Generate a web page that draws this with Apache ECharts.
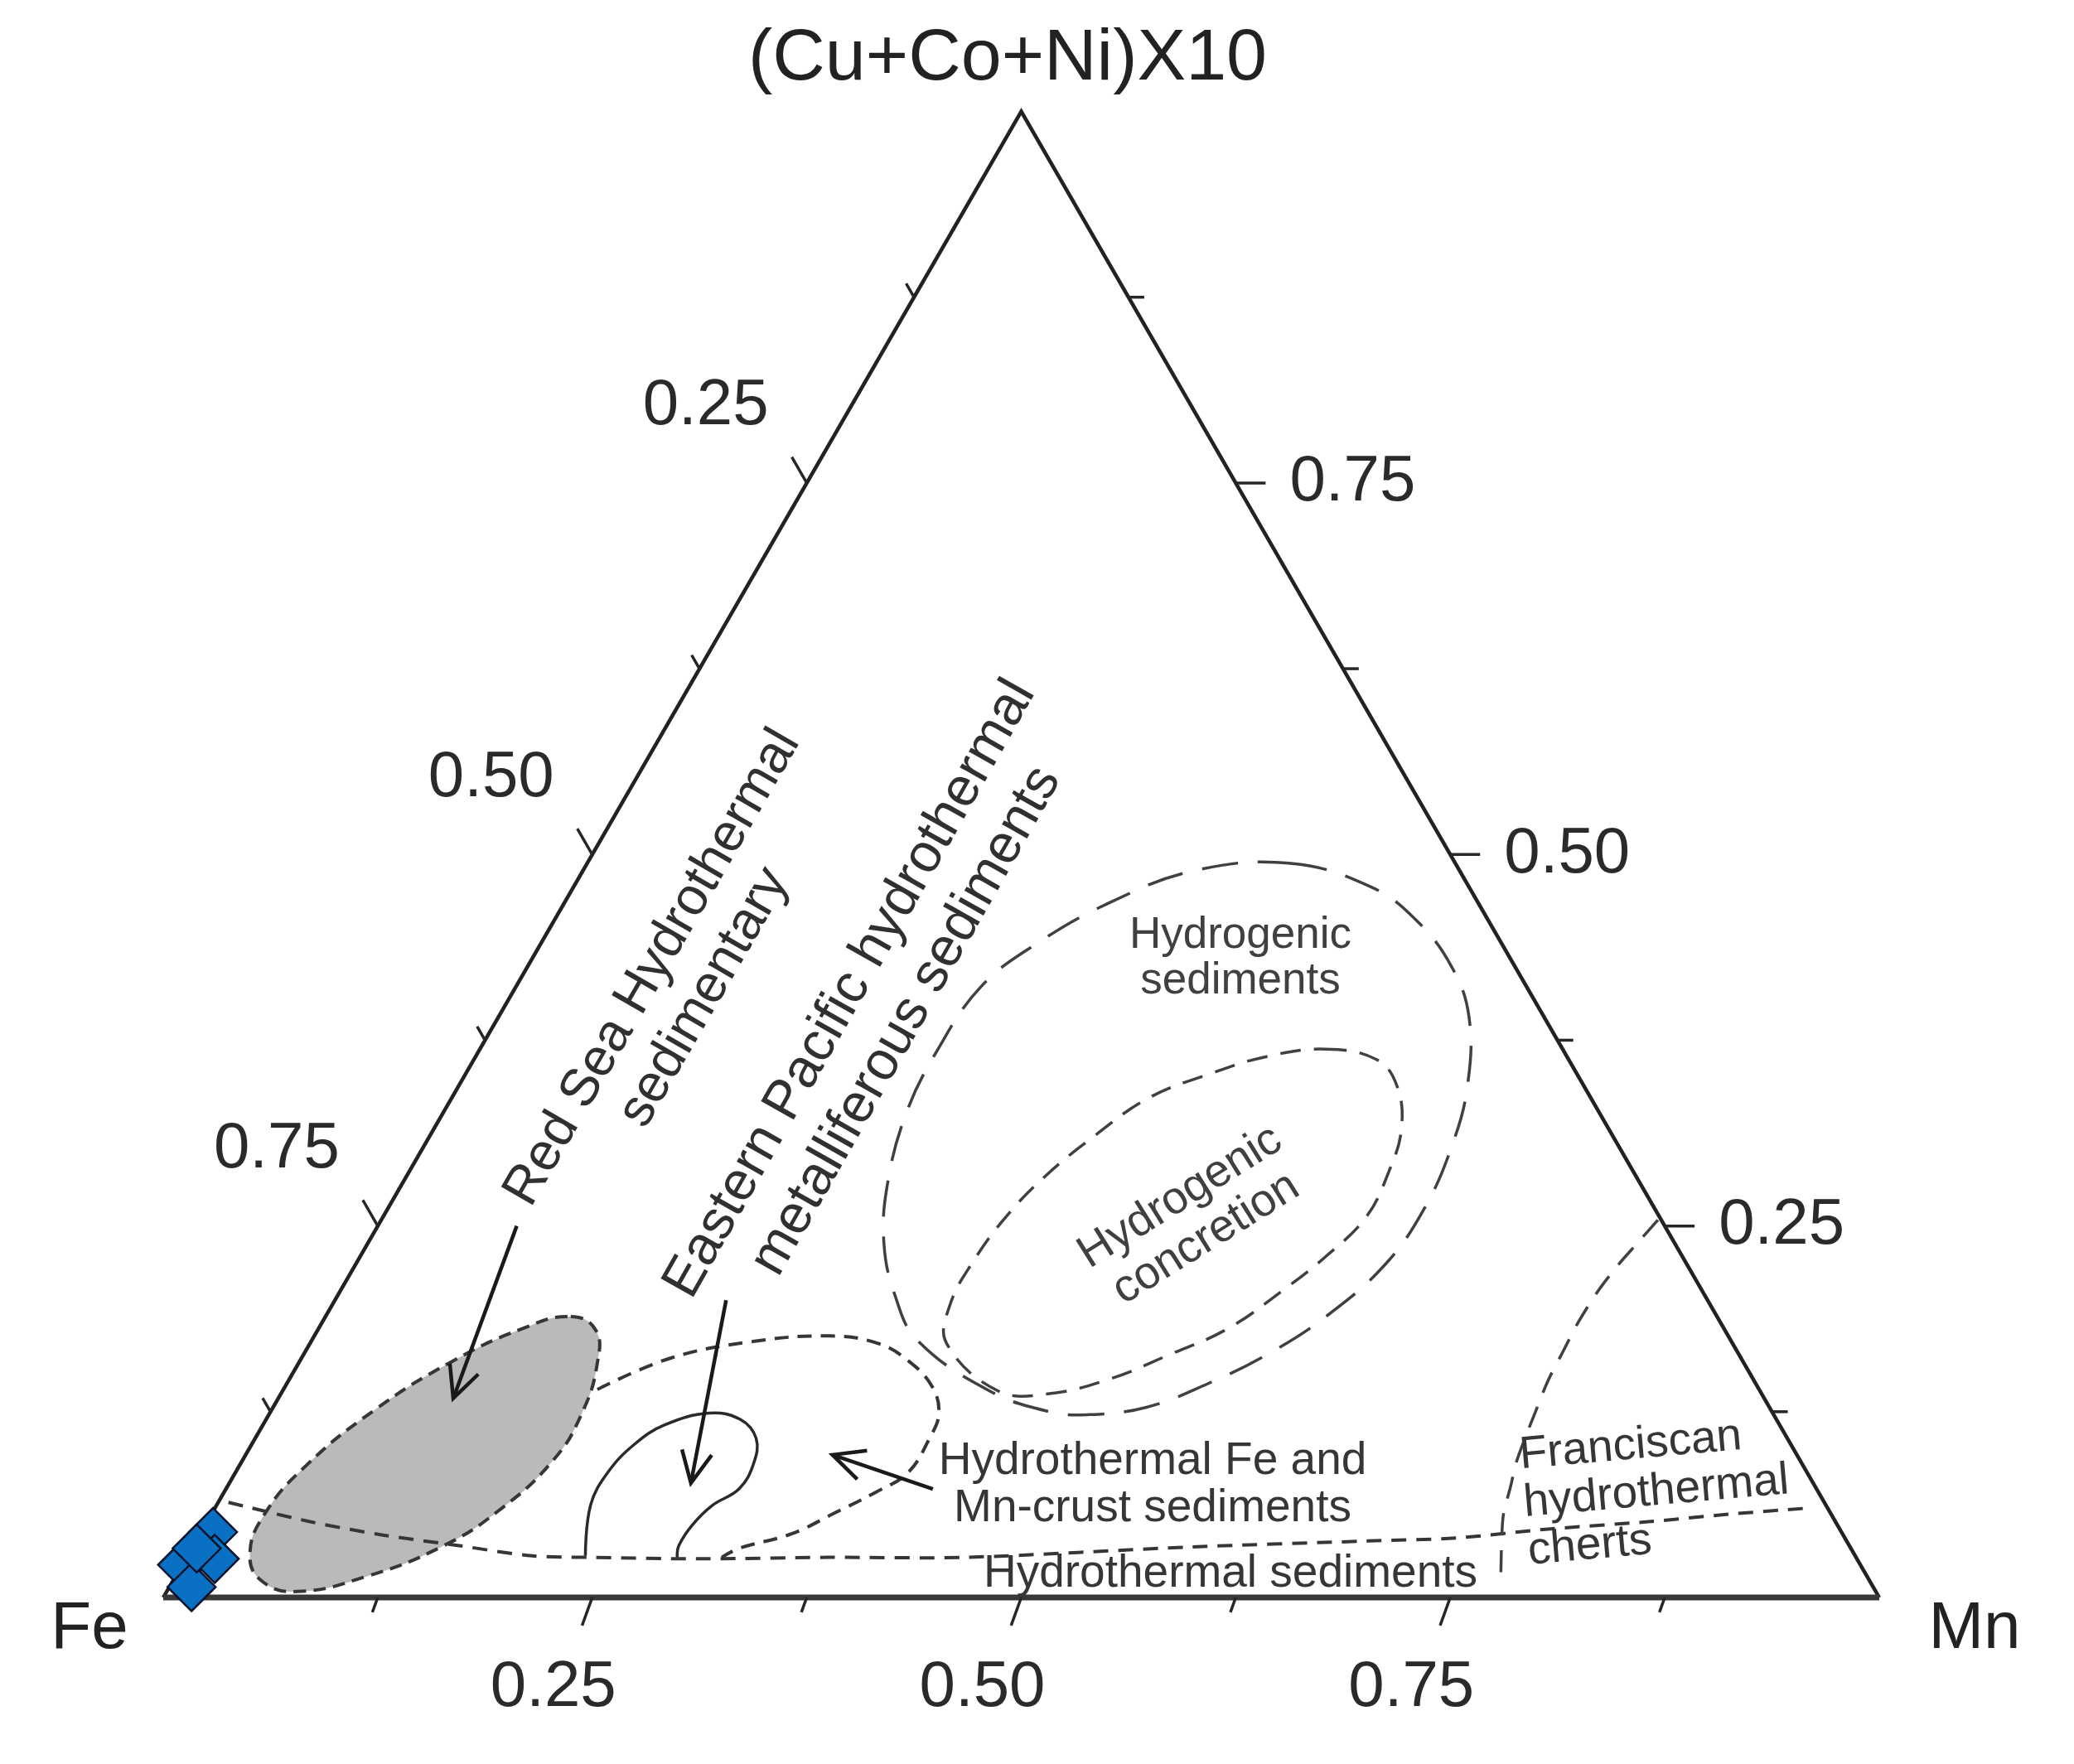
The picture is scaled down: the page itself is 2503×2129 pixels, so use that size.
<!DOCTYPE html>
<html>
<head>
<meta charset="utf-8">
<script src="https://cdn.jsdelivr.net/npm/echarts@6/dist/echarts.min.js"></script>
<style>
html,body{margin:0;padding:0;background:#ffffff;}
#chart{width:2503px;height:2129px;}
</style>
</head>
<body>
<div id="chart"></div>
<script>
// ---------- DATA (ternary points stored as [Mn, (Cu+Co+Ni)x10]; Fe = 1 - Mn - Cu) ----------
const vertexNames = ['Fe', 'Mn', '(Cu+Co+Ni)X10'];
const tickValues = [0.125, 0.25, 0.375, 0.5, 0.625, 0.75, 0.875];
const majorTickValues = [0.25, 0.5, 0.75];
const tickLabels = ['0.25', '0.50', '0.75'];

// measured samples (blue diamonds)
const samples = [[0.007, 0.044], [0.000, 0.022], [0.017, 0.026], [0.013, 0.007], [0.003, 0.033]];

// Red Sea hydrothermal sedimentary field (grey, closed)
const redSeaField = [[0.143,0.189],[0.162,0.180],[0.174,0.158],[0.182,0.124],[0.181,0.092],[0.166,0.058],
  [0.145,0.034],[0.111,0.014],[0.076,0.004],[0.052,0.011],[0.036,0.029],[0.031,0.056],[0.039,0.089],
  [0.060,0.126],[0.088,0.158],[0.119,0.181]];

// Hydrothermal sediments upper boundary (open)
const hydrothermalLine = [[0.006,0.064],[0.060,0.051],[0.107,0.042],[0.154,0.035],[0.201,0.028],[0.234,0.027],
  [0.301,0.026],[0.374,0.027],[0.454,0.027],[0.582,0.034],[0.683,0.038],[0.733,0.040],[0.784,0.046],
  [0.840,0.051],[0.884,0.056],[0.927,0.060]];

// Hydrothermal Fe and Mn-crust field, upper boundary (open)
const feMnCrustLine = [[0.183,0.140],[0.215,0.161],[0.256,0.172],[0.300,0.176],[0.331,0.171],[0.355,0.159],
  [0.377,0.142],[0.390,0.124],[0.393,0.107],[0.392,0.084],[0.380,0.071],[0.363,0.057],[0.345,0.043],
  [0.319,0.033],[0.312,0.027]];

// Eastern Pacific metalliferous sediments (solid, open at the base)
const eastPacificField = [[0.232,0.028],[0.218,0.062],[0.217,0.084],[0.223,0.103],[0.234,0.116],[0.256,0.124],
  [0.276,0.120],[0.292,0.107],[0.299,0.090],[0.299,0.073],[0.289,0.062],[0.284,0.049],[0.283,0.035],[0.286,0.027]];

// Hydrogenic sediments (closed)
const hydrogenicSediments = [[0.410,0.494],[0.465,0.478],[0.502,0.456],[0.539,0.424],[0.566,0.390],[0.588,0.344],
  [0.599,0.304],[0.604,0.262],[0.600,0.224],[0.583,0.189],[0.561,0.163],[0.537,0.144],[0.509,0.128],
  [0.477,0.123],[0.454,0.125],[0.412,0.139],[0.353,0.173],[0.325,0.203],[0.301,0.238],[0.283,0.278],
  [0.270,0.326],[0.267,0.368],[0.271,0.411],[0.289,0.440],[0.317,0.467],[0.356,0.489]];

// Hydrogenic concretion (closed)
const hydrogenicConcretion = [[0.493,0.369],[0.526,0.362],[0.547,0.344],[0.564,0.315],[0.571,0.286],[0.573,0.256],
  [0.563,0.230],[0.550,0.208],[0.530,0.181],[0.504,0.163],[0.478,0.147],[0.447,0.137],[0.417,0.139],
  [0.371,0.171],[0.360,0.197],[0.359,0.227],[0.363,0.256],[0.372,0.283],[0.387,0.310],[0.406,0.336],
  [0.433,0.352],[0.461,0.364]];

// Franciscan hydrothermal cherts boundary (open)
const franciscanLine = [[0.744,0.254],[0.740,0.239],[0.736,0.224],[0.733,0.206],[0.732,0.185],[0.733,0.165],
  [0.734,0.146],[0.737,0.126],[0.740,0.107],[0.743,0.091],[0.748,0.074],[0.753,0.056],[0.760,0.040],[0.771,0.017]];

// arrows [from, to]
const arrows = [
  [[0.081,0.250],[0.102,0.134]],
  [[0.228,0.200],[0.269,0.077]],
  [[0.412,0.073],[0.342,0.096]]
];

// ---------- helpers ----------
const SQ = Math.sqrt(3) / 2;
function toXY(p) { return [p[0] + p[1] / 2, p[1] * SQ]; }
const FONT = '"Liberation Sans", Arial, Helvetica, sans-serif';
const INK = '#363636';

function shapeSeries(pts, o) {
  const xy = pts.map(toXY);
  return {
    type: 'custom', coordinateSystem: 'cartesian2d', silent: true, clip: false,
    z: o.z || 2,
    data: xy, encode: { x: 0, y: 1 },
    renderItem: function (params, api) {
      if (params.dataIndex !== 0) return null;
      const points = xy.map(q => api.coord(q));
      return {
        type: o.closed ? 'polygon' : 'polyline',
        shape: { points: points, smooth: o.smooth == null ? 0.4 : o.smooth },
        style: {
          fill: o.fill || 'none',
          stroke: o.stroke || INK,
          lineWidth: o.width || 4,
          lineDash: o.dash || null
        }
      };
    }
  };
}

// ---------- build ----------
const chart = echarts.init(document.getElementById('chart'), null, { renderer: 'canvas' });

const series = [];
series.push(shapeSeries(feMnCrustLine, { dash: [17, 11], width: 4, z: 2 }));
series.push(shapeSeries(redSeaField, { closed: true, fill: '#bababa', dash: [15, 9], width: 4, z: 3, smooth: 0.45 }));
series.push(shapeSeries(hydrothermalLine, { dash: [18, 12], width: 4, z: 4, smooth: 0.3 }));
series.push(shapeSeries(hydrogenicSediments, { closed: true, dash: [44, 24], width: 3.5, z: 4, stroke: '#404040' }));
series.push(shapeSeries(hydrogenicConcretion, { closed: true, dash: [25, 16], width: 3.5, z: 4, stroke: '#404040' }));
series.push(shapeSeries(eastPacificField, { width: 3.5, z: 4, stroke: '#2a2a2a', smooth: 0.4 }));
series.push(shapeSeries(franciscanLine, { dash: [27, 18], width: 3.5, z: 4, stroke: '#404040', smooth: 0.3 }));

// triangle sides
series.push(shapeSeries([[1, 0], [0, 1], [0, 0]], { width: 4.5, z: 5, stroke: '#222222', smooth: 0 }));
series.push(shapeSeries([[0, 0], [1, 0]], { width: 7, z: 5, stroke: '#383838', smooth: 0 }));

// ticks: items [x, y, side, value]; side 0 = Mn (bottom), 1 = Cu (right), 2 = Fe (left)
const tickItems = [];
tickValues.forEach(v => {
  tickItems.push(toXY([v, 0]).concat([0, v]));
  tickItems.push(toXY([1 - v, v]).concat([1, v]));
  tickItems.push(toXY([0, 1 - v]).concat([2, v]));
});
const tickDir = [[-0.34, 0.94], [1, 0], [-0.5, -0.866]];
const labelOff = [[-47, 109], [141, 0], [-122, -92]];
series.push({
  type: 'custom', coordinateSystem: 'cartesian2d', silent: true, clip: false, z: 5,
  data: tickItems, encode: { x: 0, y: 1 },
  renderItem: function (params, api) {
    const p = api.coord([api.value(0), api.value(1)]);
    const side = api.value(2), v = api.value(3);
    const mi = majorTickValues.indexOf(v);
    const len = mi >= 0 ? 36 : 19;
    const d = tickDir[side];
    const children = [{
      type: 'line',
      shape: { x1: p[0], y1: p[1], x2: p[0] + d[0] * len, y2: p[1] + d[1] * len },
      style: { stroke: '#262626', lineWidth: 3.5 }
    }];
    if (mi >= 0) {
      children.push({
        type: 'text',
        x: p[0] + labelOff[side][0], y: p[1] + labelOff[side][1],
        style: {
          text: tickLabels[mi], fill: '#2a2a2a', fontSize: 78, fontFamily: FONT,
          align: 'center', verticalAlign: 'middle', textAlign: 'center', textVerticalAlign: 'middle'
        }
      });
    }
    return { type: 'group', children: children };
  }
});

// arrows
series.push({
  type: 'custom', coordinateSystem: 'cartesian2d', silent: true, clip: false, z: 6,
  data: arrows.map(a => toXY(a[0]).concat(toXY(a[1]))),
  encode: { x: [0, 2], y: [1, 3] },
  renderItem: function (params, api) {
    const s = api.coord([api.value(0), api.value(1)]);
    const e = api.coord([api.value(2), api.value(3)]);
    const ang = Math.atan2(e[1] - s[1], e[0] - s[0]);
    const L = 42, h = 0.45;
    const a1 = [e[0] - L * Math.cos(ang - h), e[1] - L * Math.sin(ang - h)];
    const a2 = [e[0] - L * Math.cos(ang + h), e[1] - L * Math.sin(ang + h)];
    return {
      type: 'group', children: [
        { type: 'line', shape: { x1: s[0], y1: s[1], x2: e[0], y2: e[1] }, style: { stroke: '#1a1a1a', lineWidth: 4.5 } },
        { type: 'polyline', shape: { points: [a1, e, a2] }, style: { stroke: '#1a1a1a', lineWidth: 4.5, fill: null } }
      ]
    };
  }
});

// samples
series.push({
  type: 'scatter', z: 10, silent: true,
  data: samples.map(toXY),
  symbol: 'diamond', symbolSize: 58,
  itemStyle: { color: '#0a70c4', borderColor: '#08122a', borderWidth: 2.5, opacity: 1 }
});

function txt(x, y, text, size, opts) {
  opts = opts || {};
  return {
    type: 'text', x: x, y: y, rotation: (opts.rot || 0) * Math.PI / 180, z: 20, silent: true,
    style: {
      text: text, fill: opts.color || '#303030', fontSize: size, fontFamily: FONT,
      lineHeight: opts.lh || Math.round(size * 1.12),
      align: opts.align || 'center', verticalAlign: 'middle',
      textAlign: opts.align || 'center', textVerticalAlign: 'middle'
    }
  };
}

const option = {
  backgroundColor: '#ffffff',
  animation: false,
  grid: { left: 197, top: 134.5, width: 2071, height: 1793.5, show: false },
  xAxis: { type: 'value', min: 0, max: 1, show: false },
  yAxis: { type: 'value', min: 0, max: SQ, show: false },
  series: series,
  graphic: [
    txt(1216, 72, vertexNames[2], 88, { color: '#222' }),
    txt(108, 1967, vertexNames[0], 80, { color: '#222' }),
    txt(2383, 1967, vertexNames[1], 80, { color: '#222' }),
    txt(819, 1186, 'Red Sea Hydrothermal\nsedimentary', 64, { rot: 60, lh: 72 }),
    txt(1060, 1213, 'Eastern Pacific hydrothermal\nmetalliferous sediments', 66, { rot: 60.5, lh: 78 }),
    txt(1497, 1157, 'Hydrogenic\nsediments', 53, { lh: 55, color: '#404040' }),
    txt(1440, 1470, 'Hydrogenic\nconcretion', 55, { rot: 32, lh: 59, color: '#404040' }),
    txt(1391, 1792, 'Hydrothermal Fe and\nMn-crust sediments', 55, { lh: 57, color: '#363636' }),
    txt(1485, 1900, 'Hydrothermal sediments', 55, { color: '#363636' }),
    txt(1839, 1815, 'Franciscan\nhydrothermal\ncherts', 55, { rot: 5, lh: 58, align: 'left', color: '#363636' })
  ]
};
chart.setOption(option);
</script>
</body>
</html>
